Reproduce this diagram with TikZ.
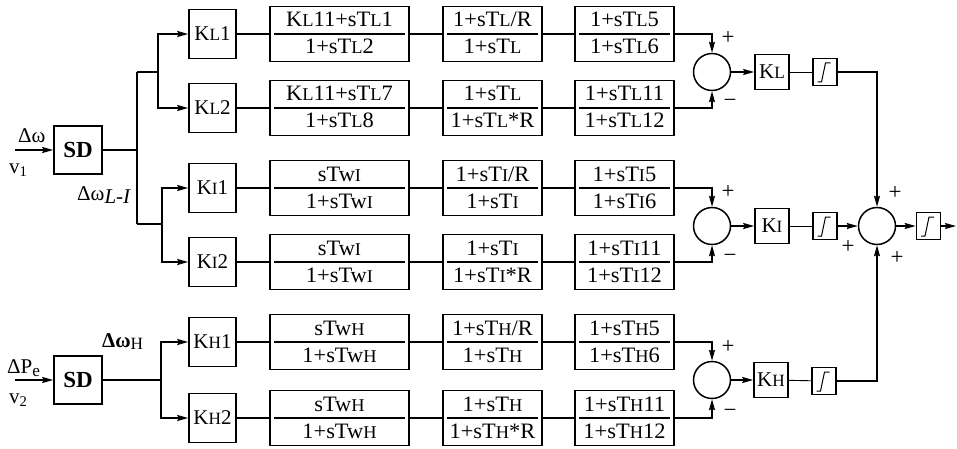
\documentclass[tikz,border=0pt]{standalone}
\usepackage{fontspec}
\setmainfont{Liberation Serif}
\newfontfamily\fracfont[FakeStretch=1.02]{Liberation Serif}
\usetikzlibrary{arrows.meta,calc}
\newcommand\mainsize{\fontsize{21}{22}\selectfont}
\newcommand\fracsize{\fontsize{22}{23}\selectfont}
\newcommand\smc[1]{{\fontsize{0.82em}{1em}\selectfont #1}}
\newcommand\frb[6]{%
  \node[fbox,minimum width=#4pt] (#1) at (#2,#3) {};
  \node[ftext] (#1n) at (#2,#3-7) {#5};
  \node[ftext] (#1d) at (#2,#3+20) {#6};
  \draw[rulel] ([xshift=5pt]#1.west) -- ([xshift=-5pt]#1.east);}
\newcommand\limsym[1]{%
  \draw[line width=1pt,shift={(#1.center)}] (-7.5,10) -- (-3.5,10) -- (0.5,-9) -- (5.5,-9);}
\begin{document}
\begin{tikzpicture}[x=1pt,y=-1pt,
  wire/.style={line width=1.5pt},
  thinwire/.style={line width=0.9pt},
  arr/.style={wire,-{Stealth[length=11pt,width=6pt,inset=1.5pt]}},
  kbox/.style={draw,line width=1.6pt,minimum width=47pt,minimum height=49pt,inner sep=0pt,font=\mainsize},
  sdbox/.style={draw,line width=1.6pt,minimum width=48pt,minimum height=48pt,inner sep=0pt,font=\fontsize{23}{23}\selectfont\bfseries},
  fbox/.style={draw,line width=1.6pt,minimum height=55pt,inner sep=0pt},
  ftext/.style={inner sep=0pt,anchor=base,font=\fracfont\fracsize},
  rulel/.style={line width=1.5pt},
  gbox/.style={draw,line width=1.6pt,minimum width=34pt,minimum height=35pt,inner sep=0pt,font=\mainsize},
  lim/.style={draw,line width=1.6pt,minimum width=24pt,minimum height=27pt,inner sep=0pt},
  sumc/.style={draw,circle,line width=1.5pt,minimum size=37pt,inner sep=0pt},
  lbl/.style={inner sep=0pt,font=\mainsize},
  sgn/.style={inner sep=0pt,font=\fontsize{23}{23}\selectfont}]
\useasboundingbox (0,0) rectangle (957,449);

% SD blocks
\node[sdbox] (sd1) at (78,150) {SD};
\node[sdbox] (sd2) at (78,380) {SD};
\coordinate (in1) at (15,150);
\coordinate (in2) at (15,380);
\draw[arr] (in1) -- (sd1);
\draw[arr] (in2) -- (sd2);
\node[lbl,anchor=base west] (l1) at (18,143) {Δω};
\node[lbl,anchor=base west] (l2) at (9,173) {v\textsubscript{1}};
\node[lbl,anchor=base west] (l3) at (77,200) {Δω\raisebox{-0.35ex}{\textit{L-I}}};
\node[lbl,anchor=base west] (l4) at (102,347) {\textbf{Δω}\raisebox{-0.3ex}{\smc{H}}};
\node[lbl,anchor=base west] (l5) at (7,373) {ΔP\raisebox{-0.35ex}{\smc{e}}};
\node[lbl,anchor=base west] (l6) at (9,403) {v\textsubscript{2}};

% gain boxes
\node[kbox] (kl1) at (212.5,34) {K\smc{L}1};
\node[kbox] (kl2) at (212.5,108) {K\smc{L}2};
\node[kbox] (ki1) at (212.5,188) {K\smc{I}1};
\node[kbox] (ki2) at (212.5,262) {K\smc{I}2};
\node[kbox] (kh1) at (212.5,342) {K\smc{H}1};
\node[kbox] (kh2) at (212.5,418) {K\smc{H}2};

% branching
\coordinate (t1) at (137,72);
\coordinate (t2) at (137,224);
\coordinate (bL) at (158,72);
\coordinate (bI) at (162,224);
\coordinate (bH) at (161,380);
\draw[wire] (sd1.east) -- (sd1.east -| t1);
\draw[wire] (t1) -- (t2);
\draw[wire] (t1) -- (bL);
\draw[wire] (t2) -- (bI);
\draw[arr] (bL) |- (kl1);
\draw[arr] (bL) |- (kl2);
\draw[arr] (bI) |- (ki1);
\draw[arr] (bI) |- (ki2);
\draw[wire] (sd2) -- (bH);
\draw[arr] (bH) |- (kh1);
\draw[arr] (bH) |- (kh2);

% fraction blocks
\frb{fa1}{339.5}{34}{139}{K\smc{L}11+sT\smc{L}1}{1+sT\smc{L}2}
\frb{fa2}{492.5}{34}{99}{1+sT\smc{L}/R}{1+sT\smc{L}}
\frb{fa3}{624.5}{34}{99}{1+sT\smc{L}5}{1+sT\smc{L}6}
\frb{fb1}{339.5}{108}{139}{K\smc{L}11+sT\smc{L}7}{1+sT\smc{L}8}
\frb{fb2}{492.5}{108}{99}{1+sT\smc{L}}{1+sT\smc{L}*R}
\frb{fb3}{624.5}{108}{99}{1+sT\smc{L}11}{1+sT\smc{L}12}
\frb{fc1}{339.5}{188}{139}{sTw\smc{I}}{1+sTw\smc{I}}
\frb{fc2}{492.5}{188}{99}{1+sT\smc{I}/R}{1+sT\smc{I}}
\frb{fc3}{624.5}{188}{99}{1+sT\smc{I}5}{1+sT\smc{I}6}
\frb{fd1}{339.5}{262}{139}{sTw\smc{I}}{1+sTw\smc{I}}
\frb{fd2}{492.5}{262}{99}{1+sT\smc{I}}{1+sT\smc{I}*R}
\frb{fd3}{624.5}{262}{99}{1+sT\smc{I}11}{1+sT\smc{I}12}
\frb{fe1}{339.5}{342}{139}{sTw\smc{H}}{1+sTw\smc{H}}
\frb{fe2}{492.5}{342}{99}{1+sT\smc{H}/R}{1+sT\smc{H}}
\frb{fe3}{624.5}{342}{99}{1+sT\smc{H}5}{1+sT\smc{H}6}
\frb{ff1}{339.5}{418}{139}{sTw\smc{H}}{1+sTw\smc{H}}
\frb{ff2}{492.5}{418}{99}{1+sT\smc{H}}{1+sT\smc{H}*R}
\frb{ff3}{624.5}{418}{99}{1+sT\smc{H}11}{1+sT\smc{H}12}

\foreach \r/\k in {a/kl1,b/kl2,c/ki1,d/ki2,e/kh1,f/kh2}{
  \draw[wire] (\k) -- (f\r1);
  \draw[wire] (f\r1) -- (f\r2);
  \draw[wire] (f\r2) -- (f\r3);
}

% summing junctions
\node[sumc] (sL) at (712,72) {};
\node[sumc] (sI) at (712,226) {};
\node[sumc] (sH) at (712,380) {};
\draw[arr] (fa3.east) -| (sL.north);
\draw[arr] (fb3.east) -| (sL.south);
\draw[arr] (fc3.east) -| (sI.north);
\draw[arr] (fd3.east) -| (sI.south);
\draw[arr] (fe3.east) -| (sH.north);
\draw[arr] (ff3.east) -| (sH.south);
\node[sgn] (pL) at (728,38) {+};
\node[sgn] (mL) at (730,103) {−};
\node[sgn] (pI) at (728,192) {+};
\node[sgn] (mI) at (730,258) {−};
\node[sgn] (pH) at (728,347) {+};
\node[sgn] (mH) at (730,413) {−};

% gains and limiters
\node[gbox] (gL) at (772,72) {K\smc{L}};
\node[gbox] (gI) at (772,226) {K\smc{I}};
\node[gbox] (gH) at (771,380) {K\smc{H}};
\node[lim] (limL) at (825,72) {};
\node[lim] (limI) at (825,226) {};
\node[lim] (limH) at (824,381) {};
\limsym{limL}\limsym{limI}\limsym{limH}
\draw[arr] (sL) -- (gL);
\draw[arr] (sI) -- (gI);
\draw[arr] (sH) -- (gH);
\draw[thinwire] (gL) -- (limL);
\draw[thinwire] (gI) -- (limI);
\draw[thinwire] (gH) -- (limH);

% final sum
\node[sumc] (sB) at (877,226) {};
\draw[arr] (limL.east) -| (sB.north);
\draw[arr] (limI) -- (sB);
\draw[arr] (limH.east) -| (sB.south);
\node[sgn] (pB1) at (895,193) {+};
\node[sgn] (pB2) at (848,247) {+};
\node[sgn] (pB3) at (897,258) {+};
\node[lim] (limO) at (928.5,226) {};
\limsym{limO}
\draw[arr] (sB) -- (limO);
\coordinate (out) at (956,226);
\draw[arr] (limO) -- (out);
\end{tikzpicture}
\end{document}
